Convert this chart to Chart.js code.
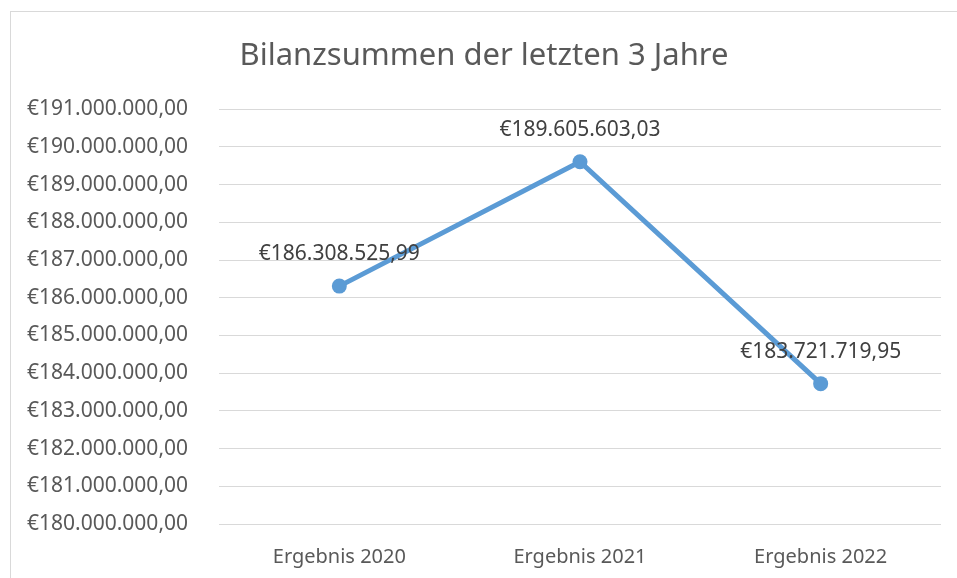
<!DOCTYPE html>
<html>
<head>
<meta charset="utf-8">
<script src="https://cdn.jsdelivr.net/npm/chart.js@4"></script>
<style>
    html, body { margin: 0; padding: 0; background: #fff; }
    #wrap { width: 957px; height: 578px; position: relative; }
</style>
</head>
<body>
<div id="wrap"><canvas id="bilanzChart" width="957" height="578"></canvas></div>
<script>
const categories = ['Ergebnis 2020', 'Ergebnis 2021', 'Ergebnis 2022'];
const bilanzsummen = [186308525.99, 189605603.03, 183721719.95];
const yMin = 180000000;
const yMax = 191000000;
const yStep = 1000000;

const euroFormat = new Intl.NumberFormat('de-DE', { minimumFractionDigits: 2, maximumFractionDigits: 2 });
function formatEuro(v) {
    return '€' + euroFormat.format(v);
}

const fontFamily = '"Noto Sans", "Open Sans", sans-serif';

// light grey frame around the chart, like the Excel chart area
const framePlugin = {
    id: 'frame',
    beforeDraw(chart) {
        const c = chart.ctx;
        c.save();
        c.fillStyle = '#ffffff';
        c.fillRect(0, 0, chart.width, chart.height);
        c.strokeStyle = '#d9d9d9';
        c.lineWidth = 1;
        c.strokeRect(10.5, 11.5, chart.width + 20, chart.height + 20);
        c.restore();
    }
};

// value labels above each point
const valueLabelPlugin = {
    id: 'valueLabels',
    afterDatasetsDraw(chart) {
        const c = chart.ctx;
        const meta = chart.getDatasetMeta(0);
        c.save();
        c.font = '21px ' + fontFamily;
        c.fillStyle = '#404040';
        c.textAlign = 'center';
        c.textBaseline = 'middle';
        meta.data.forEach((pt, i) => {
            c.fillText(formatEuro(chart.data.datasets[0].data[i]), pt.x, pt.y - 32);
        });
        c.restore();
    }
};

new Chart(document.getElementById('bilanzChart'), {
    type: 'line',
    data: {
        labels: categories,
        datasets: [{
            label: 'Bilanzsumme',
            data: bilanzsummen,
            borderColor: '#5b9bd5',
            backgroundColor: '#5b9bd5',
            borderWidth: 5,
            pointRadius: 7.5,
            pointHoverRadius: 7.5,
            pointBackgroundColor: '#5b9bd5',
            pointBorderWidth: 0,
            tension: 0,
            fill: false
        }]
    },
    options: {
        responsive: false,
        animation: false,
        layout: {
            padding: { left: 27, right: 16, top: 0, bottom: 10 }
        },
        plugins: {
            legend: { display: false },
            tooltip: { enabled: false },
            title: {
                display: true,
                text: 'Bilanzsummen der letzten 3 Jahre',
                color: '#595959',
                font: { family: fontFamily, size: 31, weight: 'normal' },
                padding: { top: 38, bottom: 34 }
            }
        },
        scales: {
            x: {
                offset: true,
                afterFit(scale) {
                    scale.height = 44;
                },
                grid: { display: false, drawTicks: false },
                border: { display: false },
                ticks: {
                    color: '#595959',
                    font: { family: fontFamily, size: 20 },
                    padding: 21,
                    maxRotation: 0
                }
            },
            y: {
                min: yMin,
                max: yMax,
                afterFit(scale) {
                    scale.width = 192;
                },
                grid: { color: '#d9d9d9', lineWidth: 1, drawTicks: false },
                border: { display: false },
                ticks: {
                    stepSize: yStep,
                    color: '#595959',
                    crossAlign: 'far',
                    font: { family: fontFamily, size: 21 },
                    callback: (v) => formatEuro(v)
                }
            }
        }
    },
    plugins: [framePlugin, valueLabelPlugin]
});
</script>
</body>
</html>
